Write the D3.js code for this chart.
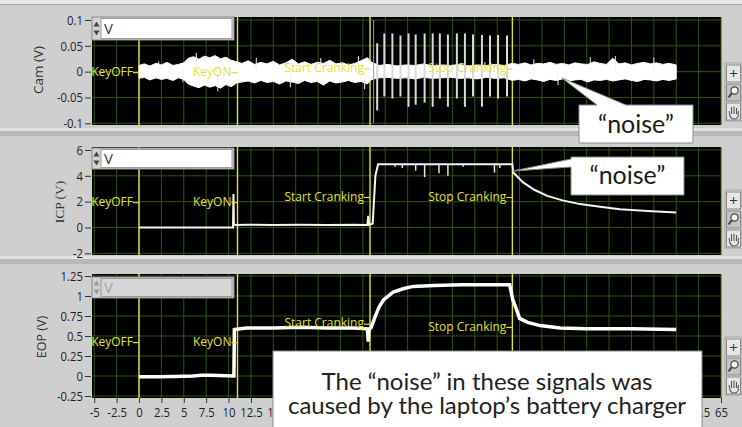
<!DOCTYPE html>
<meta charset="utf-8">
<script src="https://d3js.org/d3.v7.min.js"></script>
<style>
  body { margin: 0; background: #cfcfcf; }
  svg { display: block; }
</style>
<body>
<script>
  // ---- data ----
  var xTickValues = [-5, -2.5, 0, 2.5, 5, 7.5, 10, 12.5, 15, 17.5, 20, 22.5, 25, 27.5, 30,
    32.5, 35, 37.5, 40, 42.5, 45, 47.5, 50, 52.5, 55, 57.5, 60, 62.5, 65];
  var xTickLabels = ["-5", "-2.5", "0", "2.5", "5", "7.5", "10", "12.5", "15", "17.5", "20", "22.5",
    "25", "27.5", "30", "32.5", "35", "37.5", "40", "42.5", "45", "47.5", "50", "52.5", "55",
    "57.5", "60", "62.5", "65"];

  var camTicks = [-0.1, -0.05, 0, 0.05, 0.1];
  var camTickLabels = ["-0.1", "-0.05", "0", "0.05", "0.1"];
  var icpTicks = [-2, 0, 2, 4, 6];
  var icpTickLabels = ["-2", "0", "2", "4", "6"];
  var eopTicks = [-0.25, 0, 0.25, 0.5, 0.75, 1, 1.25];
  var eopTickLabels = ["-0.25", "0", "0.25", "0.5", "0.75", "1", "1.25"];

  var eventNames = ["KeyOFF", "KeyON", "Start Cranking", "Stop Cranking"];
  var eventTimes = [0, 11, 25.8, 41.7];
  var camEventY = [0, 0, 0.007, 0.007];
  var icpEventY = [2, 2, 2.4, 2.4];
  var eopEventY = [0.43, 0.43, 0.66, 0.62];

  // Cam: noise band (upper / lower envelope)
  var camTime = [0, 0.6, 1.2, 1.9, 2.5, 3.1, 3.8, 4.4, 5.0, 5.5,
    6.1, 6.7, 7.3, 7.9, 8.5, 9.1, 9.7, 10.3, 10.9, 11.5,
    12.2, 12.9, 13.6, 14.3, 15.0, 15.7, 16.4, 17.1, 17.8, 18.5,
    19.2, 19.9, 20.6, 21.3, 22.0, 22.7, 23.4, 24.1, 24.8, 25.5,
    26.0, 26.8, 27.8, 28.8, 29.8, 30.8, 31.8, 32.8, 33.8, 34.8,
    35.8, 36.8, 37.8, 38.8, 39.8, 40.8, 41.7, 42.4, 43.1, 43.8,
    44.5, 45.2, 45.9, 46.6, 47.3, 48.0, 48.7, 49.4, 50.1, 50.8,
    51.5, 52.2, 52.9, 53.6, 54.3, 55.0, 55.7, 56.4, 57.1, 57.8,
    58.5, 59.2, 60.0];
  var camHigh = [0.012, 0.015, 0.011, 0.016, 0.013, 0.018, 0.012, 0.014, 0.017, 0.026,
    0.029, 0.024, 0.030, 0.027, 0.031, 0.025, 0.028, 0.022, 0.019, 0.016,
    0.021, 0.014, 0.018, 0.015, 0.020, 0.013, 0.017, 0.024, 0.015, 0.019,
    0.014, 0.018, 0.016, 0.022, 0.015, 0.017, 0.013, 0.016, 0.021, 0.027,
    0.018, 0.012, 0.014, 0.011, 0.013, 0.012, 0.015, 0.011, 0.013, 0.012,
    0.014, 0.011, 0.013, 0.012, 0.014, 0.012, 0.016, 0.014, 0.017, 0.013,
    0.016, 0.015, 0.018, 0.014, 0.016, 0.013, 0.017, 0.015, 0.014, 0.019,
    0.016, 0.014, 0.026, 0.015, 0.017, 0.013, 0.016, 0.018, 0.015, 0.017,
    0.014, 0.016, 0.013];
  var camLow = [-0.013, -0.011, -0.016, -0.012, -0.015, -0.013, -0.017, -0.012, -0.015, -0.024,
    -0.028, -0.031, -0.026, -0.030, -0.027, -0.032, -0.025, -0.029, -0.022, -0.020,
    -0.018, -0.022, -0.017, -0.021, -0.019, -0.024, -0.018, -0.020, -0.023, -0.017,
    -0.021, -0.019, -0.026, -0.018, -0.022, -0.020, -0.017, -0.021, -0.019, -0.024,
    -0.015, -0.012, -0.011, -0.013, -0.012, -0.014, -0.011, -0.013, -0.012, -0.011,
    -0.013, -0.012, -0.014, -0.011, -0.013, -0.012, -0.017, -0.015, -0.018, -0.014,
    -0.016, -0.019, -0.015, -0.017, -0.014, -0.018, -0.016, -0.015, -0.020, -0.016,
    -0.017, -0.015, -0.018, -0.016, -0.014, -0.017, -0.019, -0.015, -0.016, -0.018,
    -0.015, -0.017, -0.014];
  // Cam: single noise blips
  var camBlipTime = [2.2, 4.9, 6.4, 8.8, 13.1, 16.9, 20.3, 24.5, 25.2, 44.1, 46.8, 50.4, 53.2, 57.5];
  var camBlipValue = [0.02, -0.02, 0.036, -0.038, 0.027, -0.03, 0.026, 0.03, -0.034, 0.024, -0.026, 0.028, 0.03, 0.027];
  // Cam: cranking pulses
  var camSpikeTime = [26.2, 26.6, 27.4, 28.3, 29.2, 30.1, 30.9, 31.9, 32.8, 33.6, 34.5, 35.5,
    36.4, 37.3, 38.3, 39.2, 40.1, 41.1];
  var camSpikeHigh = [0.1, 0.055, 0.074, 0.074, 0.07, 0.074, 0.072, 0.074, 0.074, 0.074, 0.072,
    0.074, 0.074, 0.072, 0.071, 0.07, 0.071, 0.07];
  var camSpikeLow = [-0.1, -0.075, -0.048, -0.052, -0.048, -0.068, -0.064, -0.06, -0.068, -0.052,
    -0.068, -0.052, -0.068, -0.048, -0.068, -0.048, -0.052, -0.048];

  // ICP
  var icpTime = [0, 10.5, 10.55, 10.6, 10.7, 12, 15, 18, 21, 24, 25.5, 25.6, 25.7, 26.1, 26.4,
    26.7, 28, 30, 33, 36, 39, 41.7, 41.8, 42.9, 44.2, 45.6, 47.3, 49.25, 51.5, 53.7, 56.8, 60.0];
  var icpValue = [0, 0, 2.6, 0.25, 0.2, 0.22, 0.2, 0.21, 0.2, 0.22, 0.2, 0.9, 0.2, 0.3, 4.0,
    4.9, 4.9, 4.9, 4.9, 4.9, 4.9, 4.9, 4.26, 3.49, 2.9, 2.45, 2.1, 1.81, 1.6, 1.42, 1.28, 1.16];
  var icpDipTime = [28.6, 29.4, 30.9, 31.9, 33.5, 34.5, 36.2, 39.7, 40.3];
  var icpDipValue = [4.7, 4.6, 4.4, 3.9, 4.2, 4.0, 4.7, 4.25, 4.6];

  // EOP
  var eopTime = [0, 2, 4, 6, 7, 8, 10.6, 10.65, 12, 15, 18, 21, 24, 25.5, 25.6, 25.7, 25.9,
    26.3, 26.8, 27.3, 28.4, 29.5, 30.6, 33, 36, 41.4, 41.75, 42.1, 42.5, 43.4, 44.8, 47.0, 50, 55, 60];
  var eopValue = [-0.01, -0.01, -0.005, 0.0, 0.01, 0.01, 0.0, 0.58, 0.6, 0.6, 0.61, 0.6, 0.6, 0.59,
    0.43, 0.59, 0.6, 0.72, 0.86, 0.95, 1.05, 1.09, 1.12, 1.13, 1.14, 1.14, 0.95, 0.85, 0.72, 0.67,
    0.63, 0.6, 0.59, 0.59, 0.58];

  // ---- drawing ----
  var W = 742, H = 427;
  var yellow = "#e2e236";
  var numScale = 0.84;

  var x = d3.scaleLinear().domain([-5.25, 65]).range([92, 721]);

  var svg = d3.select("body").append("svg")
    .attr("width", W)
    .attr("height", H)
    .style("font-family", "'Open Sans', sans-serif");

  // LabVIEW-ish grey front panel
  svg.append("rect").attr("width", W).attr("height", H).attr("fill", "#cfcfcf");
  svg.append("rect").attr("width", W).attr("height", 4).attr("fill", "#e8e8e8");
  svg.append("rect").attr("y", 4).attr("width", W).attr("height", 1).attr("fill", "#a8a8a8");
  svg.append("rect").attr("y", 128).attr("width", W).attr("height", 3).attr("fill", "#e2e2e2");
  svg.append("rect").attr("y", 131).attr("width", W).attr("height", 5).attr("fill", "#b8b8b8");
  svg.append("rect").attr("y", 256).attr("width", W).attr("height", 3).attr("fill", "#e2e2e2");
  svg.append("rect").attr("y", 259).attr("width", W).attr("height", 5).attr("fill", "#b8b8b8");

  function drawPanel(p) {
    var y = d3.scaleLinear().domain(p.domain).range(p.range);
    var g = svg.append("g");

    g.append("rect")
      .attr("x", 92).attr("y", p.top)
      .attr("width", 629).attr("height", p.bottom - p.top)
      .attr("fill", "#000");

    g.selectAll("line.vgrid")
      .data(xTickValues)
      .enter()
      .append("line")
      .attr("class", "vgrid")
      .attr("x1", function (d) { return x(d); })
      .attr("x2", function (d) { return x(d); })
      .attr("y1", p.top).attr("y2", p.bottom)
      .attr("stroke", "#2c5514").attr("stroke-width", 1);

    g.selectAll("line.hgrid")
      .data(p.ticks)
      .enter()
      .append("line")
      .attr("class", "hgrid")
      .attr("x1", 92).attr("x2", 721)
      .attr("y1", function (d) { return y(d); })
      .attr("y2", function (d) { return y(d); })
      .attr("stroke", "#2c5514").attr("stroke-width", 1);

    // y axis
    var ax = g.append("g")
      .attr("transform", "translate(91,0)")
      .call(d3.axisLeft(y).tickValues(p.ticks)
        .tickFormat(function (d, i) { return p.labels[i]; })
        .tickSize(6).tickPadding(2));
    ax.select(".domain").remove();
    ax.selectAll("line").attr("stroke", "#333");
    ax.selectAll("text")
      .attr("font-family", "'Open Sans', sans-serif")
      .attr("font-size", 13.5)
      .attr("fill", "#1e1e1e")
      .attr("x", -8 / numScale)
      .attr("transform", "scale(" + numScale + ",1)");

    // axis title
    g.append("text")
      .attr("transform", "translate(" + p.titleX + "," + p.titleY + ") rotate(-90)")
      .attr("text-anchor", "middle")
      .attr("dy", "0.35em")
      .attr("font-family", p.titleFont)
      .attr("font-size", p.titleSize)
      .attr("fill", "#333")
      .text(p.title);

    // event cursors
    g.selectAll("line.cursor")
      .data(eventTimes)
      .enter()
      .append("line")
      .attr("class", "cursor")
      .attr("x1", function (d) { return x(d); })
      .attr("x2", function (d) { return x(d); })
      .attr("y1", p.top).attr("y2", p.bottom)
      .attr("stroke", yellow).attr("stroke-width", 1.4);

    p.y = y;
    p.g = g;
    return p;
  }

  function drawLabels(p, vals) {
    var lg = svg.append("g");
    lg.selectAll("text")
      .data(eventNames)
      .enter()
      .append("text")
      .attr("x", function (d, i) { return x(eventTimes[i]) - 6; })
      .attr("y", function (d, i) { return p.y(vals[i]); })
      .attr("dy", "0.35em")
      .attr("text-anchor", "end")
      .attr("font-size", 12)
      .attr("fill", yellow)
      .text(function (d) { return d; });
    lg.selectAll("line")
      .data(eventNames)
      .enter()
      .append("line")
      .attr("x1", function (d, i) { return x(eventTimes[i]) - 6; })
      .attr("x2", function (d, i) { return x(eventTimes[i]); })
      .attr("y1", function (d, i) { return p.y(vals[i]) + 1; })
      .attr("y2", function (d, i) { return p.y(vals[i]) + 1; })
      .attr("stroke", yellow).attr("stroke-width", 1.2);
  }

  function drawLegend(top, h, dim) {
    var lg = svg.append("g").attr("transform", "translate(92," + top + ")");
    lg.append("rect").attr("width", 142).attr("height", h)
      .attr("fill", "#d2d2d2").attr("stroke", "#8a8a8a");
    lg.append("rect").attr("x", 9).attr("y", 1.5).attr("width", 131).attr("height", h - 3)
      .attr("fill", dim ? "#d6d6d6" : "#ffffff").attr("stroke", "#9c9c9c");
    lg.append("path").attr("d", "M1.5," + (h / 2 - 2) + " L4.5," + (h / 2 - 7) + " L7.5," + (h / 2 - 2) + " Z")
      .attr("fill", dim ? "#999" : "#444");
    lg.append("path").attr("d", "M1.5," + (h / 2 + 2) + " L4.5," + (h / 2 + 7) + " L7.5," + (h / 2 + 2) + " Z")
      .attr("fill", dim ? "#999" : "#444");
    lg.append("text").attr("x", 12).attr("y", h / 2).attr("dy", "0.36em")
      .attr("font-size", 15).attr("fill", dim ? "#a4a4a4" : "#3a3a3a").text("V");
  }

  function drawButtons(top) {
    var b = svg.append("g").attr("transform", "translate(725," + top + ")");
    b.append("rect").attr("width", 17).attr("height", 58).attr("fill", "#d8d8d8").attr("stroke", "#a6a6a6");
    [2, 21, 40].forEach(function (yy, i) {
      b.append("rect").attr("x", 1.5).attr("y", yy).attr("width", 14).attr("height", 17)
        .attr("fill", i == 1 ? "#c4c4c4" : "#e6e6e6").attr("stroke", "#8a8a8a");
    });
    b.append("text").attr("x", 8.5).attr("y", 11).attr("dy", "0.35em").attr("text-anchor", "middle")
      .attr("font-size", 15).attr("fill", "#333").text("+");
    b.append("circle").attr("cx", 9.5).attr("cy", 27.5).attr("r", 3.6)
      .attr("fill", "#f4f4f4").attr("stroke", "#444").attr("stroke-width", 1.2);
    b.append("line").attr("x1", 6.8).attr("y1", 30.2).attr("x2", 3.5).attr("y2", 34.5)
      .attr("stroke", "#444").attr("stroke-width", 2);
    b.append("path")
      .attr("d", "M5,53 L4,48 M6.5,51 L6.5,44 M9,51 L9,43.5 M11.5,51 L11.5,45 M13,52 L13.5,48 M4.5,52 Q6,56 9,56 Q13,56 13.5,52")
      .attr("fill", "none").attr("stroke", "#555").attr("stroke-width", 1.1);
  }

  // panel 1 - Cam
  var cam = drawPanel({
    top: 17, bottom: 125, domain: [-0.1, 0.1], range: [123.3, 20],
    ticks: camTicks, labels: camTickLabels,
    title: "Cam (V)", titleX: 38, titleY: 70, titleFont: "'Open Sans', sans-serif", titleSize: 13.5
  });
  var camBand = d3.area()
    .x(function (d, i) { return x(camTime[i]); })
    .y0(function (d, i) { return cam.y(camLow[i]); })
    .y1(function (d, i) { return cam.y(camHigh[i]); });
  cam.g.append("path")
    .datum(camTime)
    .attr("d", camBand)
    .attr("fill", "#ffffff").attr("stroke", "#ffffff").attr("stroke-width", 1);
  cam.g.selectAll("line.blip")
    .data(camBlipTime)
    .enter()
    .append("line")
    .attr("class", "blip")
    .attr("x1", function (d) { return x(d); })
    .attr("x2", function (d) { return x(d); })
    .attr("y1", cam.y(0))
    .attr("y2", function (d, i) { return cam.y(camBlipValue[i]); })
    .attr("stroke", "#f0f0f0").attr("stroke-width", 1);
  cam.g.selectAll("line.spike")
    .data(camSpikeTime)
    .enter()
    .append("line")
    .attr("class", "spike")
    .attr("x1", function (d) { return x(d); })
    .attr("x2", function (d) { return x(d); })
    .attr("y1", function (d, i) { return cam.y(camSpikeHigh[i]); })
    .attr("y2", function (d, i) { return cam.y(camSpikeLow[i]); })
    .attr("stroke", function (d, i) { return i == 0 ? "#9a9a9a" : "#d9d9d9"; })
    .attr("stroke-width", function (d, i) { return i == 0 ? 1 : 2; });
  drawLabels(cam, camEventY);

  // panel 2 - ICP
  var icp = drawPanel({
    top: 147, bottom: 255, domain: [-2, 6], range: [253.3, 150],
    ticks: icpTicks, labels: icpTickLabels,
    title: "ICP (V)", titleX: 59, titleY: 202, titleFont: "'Liberation Serif', serif", titleSize: 13.5
  });
  var icpLine = d3.line()
    .x(function (d, i) { return x(icpTime[i]); })
    .y(function (d, i) { return icp.y(icpValue[i]); });
  icp.g.append("path")
    .datum(icpTime)
    .attr("d", icpLine)
    .attr("fill", "none").attr("stroke", "#f4f4f4").attr("stroke-width", 2);
  icp.g.selectAll("line.dip")
    .data(icpDipTime)
    .enter()
    .append("line")
    .attr("class", "dip")
    .attr("x1", function (d) { return x(d); })
    .attr("x2", function (d) { return x(d); })
    .attr("y1", icp.y(4.9))
    .attr("y2", function (d, i) { return icp.y(icpDipValue[i]); })
    .attr("stroke", "#e4e4e4").attr("stroke-width", 1.5);
  drawLabels(icp, icpEventY);

  // panel 3 - EOP
  var eop = drawPanel({
    top: 274, bottom: 398, domain: [-0.25, 1.25], range: [396, 276],
    ticks: eopTicks, labels: eopTickLabels,
    title: "EOP (V)", titleX: 42, titleY: 337, titleFont: "'Open Sans', sans-serif", titleSize: 12.5
  });
  var eopLine = d3.line()
    .x(function (d, i) { return x(eopTime[i]); })
    .y(function (d, i) { return eop.y(eopValue[i]); });
  eop.g.append("path")
    .datum(eopTime)
    .attr("d", eopLine)
    .attr("fill", "none").attr("stroke", "#ffffff").attr("stroke-width", 3.5);
  drawLabels(eop, eopEventY);

  // x axis under the last graph
  var xa = svg.append("g")
    .attr("transform", "translate(0,398)")
    .call(d3.axisBottom(x).tickValues(xTickValues)
      .tickFormat(function (d, i) { return xTickLabels[i]; })
      .tickSize(5).tickPadding(4));
  xa.select(".domain").remove();
  xa.selectAll("line").attr("stroke", "#333");
  xa.selectAll("text")
    .attr("font-family", "'Open Sans', sans-serif")
    .attr("font-size", 13.5)
    .attr("fill", "#1e1e1e")
    .attr("transform", "scale(" + numScale + ",1)");
  // labels that sit completely under the note box are not visible in the original
  xa.selectAll(".tick")
    .filter(function (d) { return x(d) > 285 && x(d) < 690; })
    .select("text").remove();

  // plot legends and palette buttons
  drawLegend(17, 23, false);
  drawLegend(148, 21, false);
  drawLegend(277, 21, true);
  drawButtons(63);
  drawButtons(190);
  drawButtons(337);

  // callouts
  var callouts = svg.append("g").attr("font-family", "Lato, 'Open Sans', sans-serif");
  callouts.append("polygon")
    .attr("points", "579,105 597,105 562,78 626,105 693,105 693,143 579,143")
    .attr("fill", "#fff").attr("stroke", "#8c8c8c").attr("stroke-width", 1);
  callouts.append("text").attr("x", 636).attr("y", 132.5).attr("text-anchor", "middle")
    .attr("font-size", 25).attr("fill", "#1a1a1a").text("\u201Cnoise\u201D");
  callouts.append("polygon")
    .attr("points", "571,157 684,157 684,195 571,195 571,167 513,171 571,159")
    .attr("fill", "#fff").attr("stroke", "#8c8c8c").attr("stroke-width", 1);
  callouts.append("text").attr("x", 627.5).attr("y", 183.5).attr("text-anchor", "middle")
    .attr("font-size", 25).attr("fill", "#1a1a1a").text("\u201Cnoise\u201D");
  callouts.append("rect")
    .attr("x", 273).attr("y", 351).attr("width", 429).attr("height", 80)
    .attr("fill", "#fff").attr("stroke", "#8c8c8c").attr("stroke-width", 1);
  callouts.append("text").attr("x", 487).attr("y", 389.5).attr("text-anchor", "middle")
    .attr("font-size", 24).attr("fill", "#222")
    .text("The \u201Cnoise\u201D in these signals was");
  callouts.append("text").attr("x", 487).attr("y", 413.5).attr("text-anchor", "middle")
    .attr("font-size", 24).attr("fill", "#222")
    .text("caused by the laptop\u2019s battery charger");
</script>
</body>
